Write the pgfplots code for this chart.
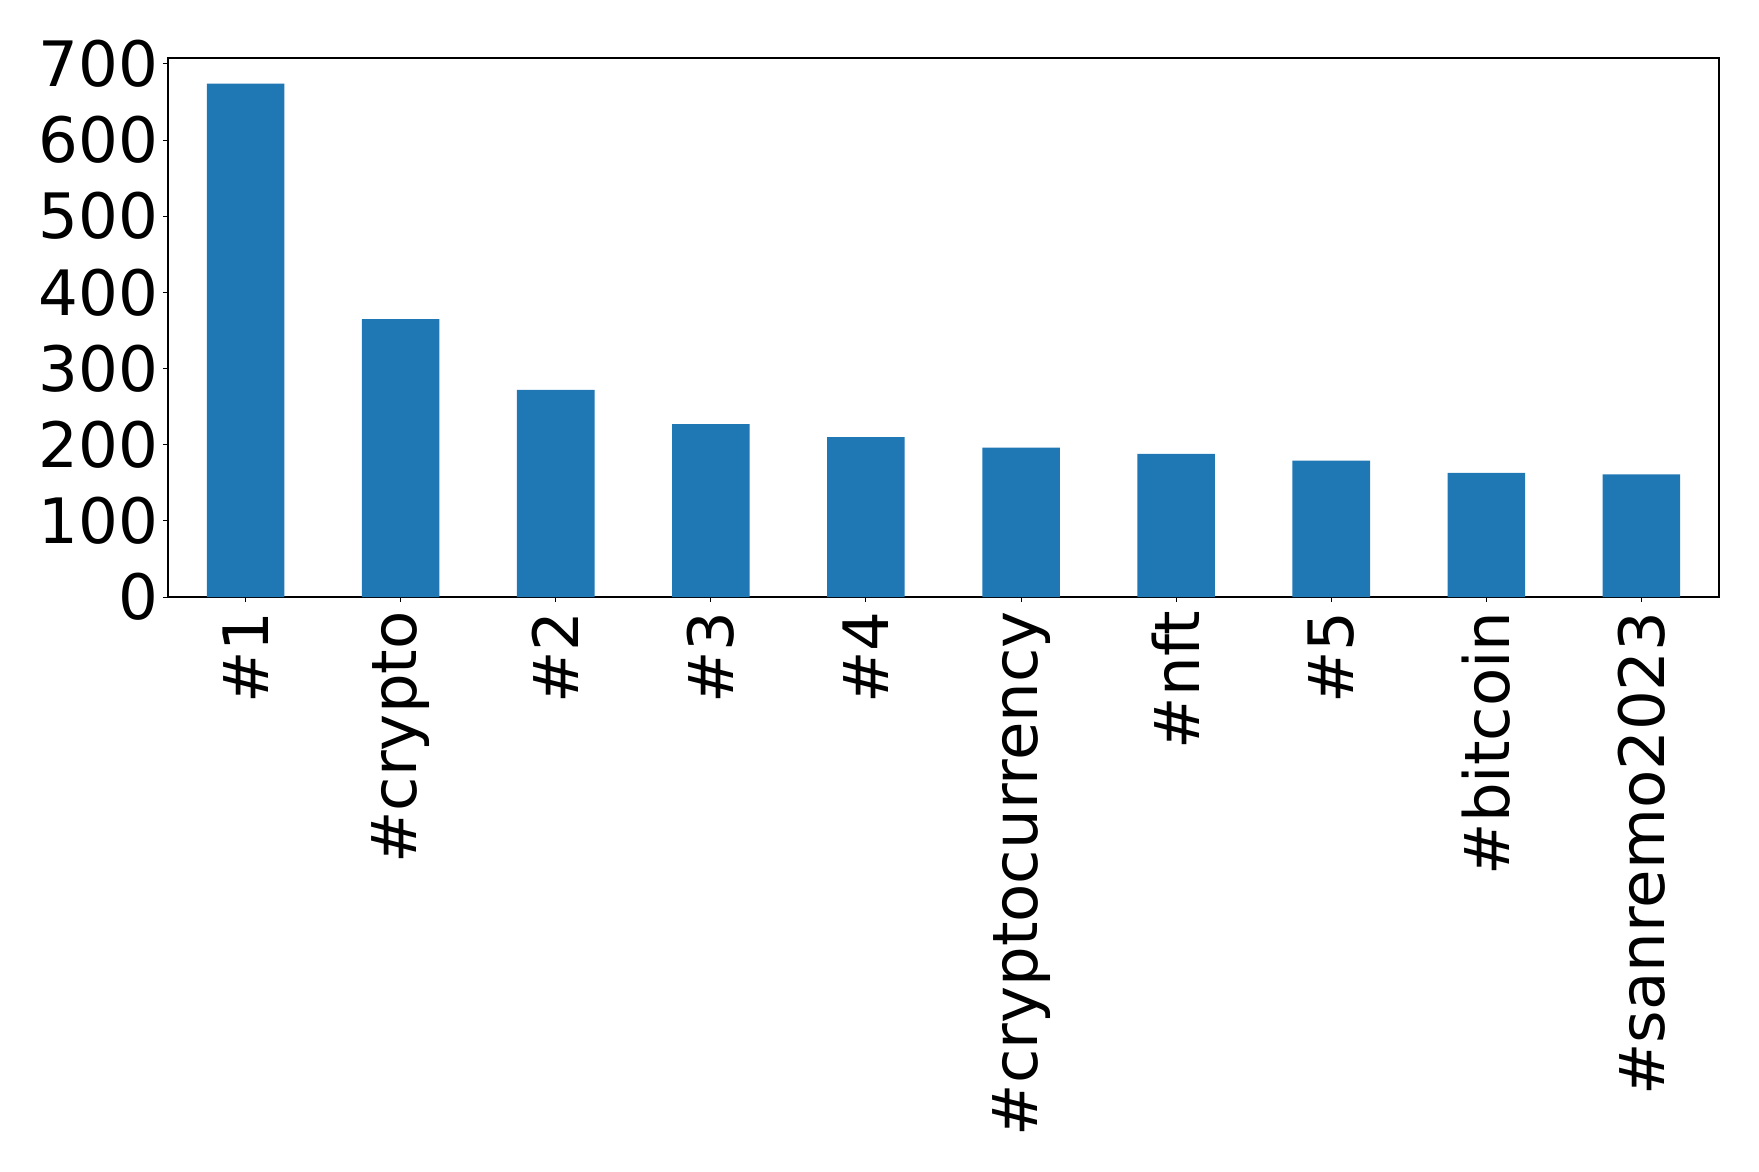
\documentclass[border=0pt]{standalone}
\usepackage{pgfplots}
\pgfplotsset{compat=1.18}
\usepackage{fontspec}
\setmainfont{DejaVu Sans}
\definecolor{tabblue}{HTML}{1F77B4}
\begin{document}
\begin{tikzpicture}
\useasboundingbox (-84pt,-287pt) rectangle (795.5pt,298.5pt);
\begin{axis}[
  at={(0,0)}, anchor=south west,
  scale only axis, width=775.5pt, height=269.5pt,
  xmin=-0.5, xmax=9.5, ymin=0, ymax=707.7,
  ybar, bar width=0.5,
  xtick={0,1,2,3,4,5,6,7,8,9},
  xticklabels={\#1,\#crypto,\#2,\#3,\#4,\#cryptocurrency,\#nft,\#5,\#bitcoin,\#sanremo2023},
  ytick={0,100,200,300,400,500,600,700},
  xtick pos=bottom, ytick pos=left,
  tick align=outside,
  major tick length=2.5pt,
  tick style={black, line width=0.5pt},
  axis line style={line width=0.6pt},
  ticklabel style={font=\fontsize{31.3}{37}\selectfont},
  /pgf/number format/assume math mode=true,
  x tick label style={rotate=90, anchor=east, inner sep=0pt, xshift=-4.5pt},
  y tick label style={inner sep=0pt, xshift=-2.3pt},
]
\addplot[draw=none, fill=tabblue] coordinates {
(0,674) (1,365) (2,272) (3,227) (4,210) (5,196) (6,188) (7,179) (8,163) (9,161)
};
\end{axis}
\end{tikzpicture}
\end{document}
